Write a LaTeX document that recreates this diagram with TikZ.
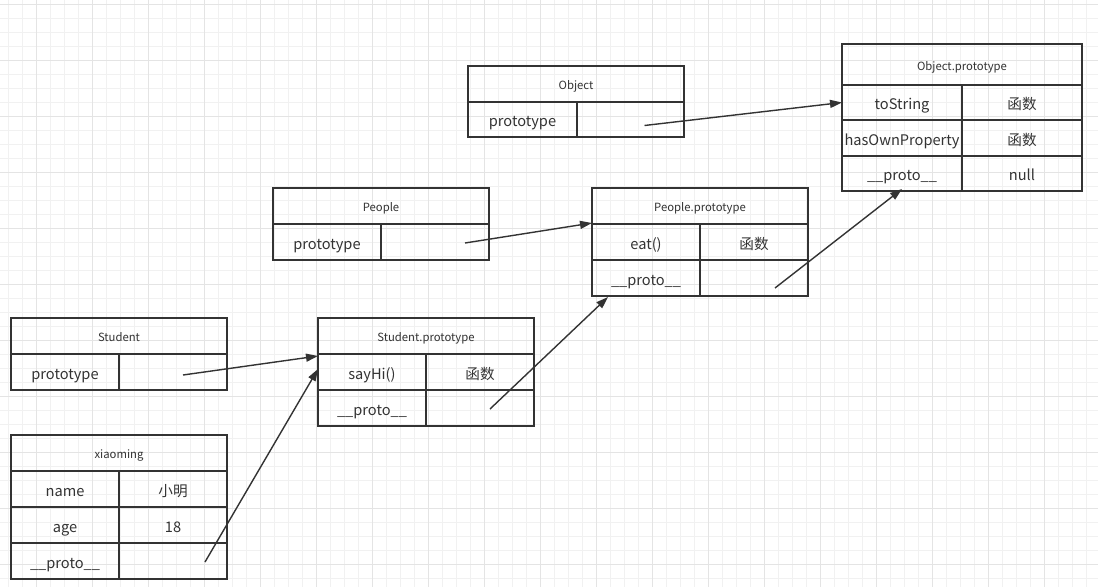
\documentclass[tikz,border=0pt]{standalone}
\usepackage{fontspec}
\setmainfont{Noto Sans CJK SC}
\usetikzlibrary{arrows.meta}
\definecolor{ink}{HTML}{333333}
\definecolor{minorgrid}{HTML}{F1F1F1}
\definecolor{majorgrid}{HTML}{E4E4E4}
\tikzset{
  cellbase/.style={draw=ink, line width=1.5pt, anchor=north west, inner sep=0pt, outer sep=0pt, text=ink, text depth=0pt},
  head/.style={cellbase, minimum height=36pt, text height=11.4pt, font=\fontsize{11.3}{13}\selectfont},
  kcell/.style={cellbase, minimum height=36pt, text height=14pt, font=\fontsize{14.6}{17}\selectfont},
  link/.style={draw=ink, line width=1.4pt, -{Triangle[length=12pt,width=8pt]}},
  minorline/.style={draw=minorgrid, line width=0.9pt},
  majorline/.style={draw=majorgrid, line width=0.9pt}
}
\begin{document}
\begin{tikzpicture}[x=1pt,y=-1pt]
\useasboundingbox (0,0) rectangle (1098,587);
\fill[white] (0,0) rectangle (1098,587);
% grid
\foreach \x in {8,22,...,1098} \draw[minorline] (\x,0) -- (\x,587);
\foreach \y in {4,18,...,587} \draw[minorline] (0,\y) -- (1098,\y);
\foreach \x in {36,92,...,1098} \draw[majorline] (\x,0) -- (\x,587);
\foreach \y in {4,60,...,587} \draw[majorline] (0,\y) -- (1098,\y);

% Object
\node[head, minimum width=216pt] (objH) at (468,66) {Object};
\node[kcell, minimum width=109pt, minimum height=35pt] (objK) at (468,102) {prototype};
\node[kcell, minimum width=107pt, minimum height=35pt] (objV) at (577,102) {};

% Object.prototype
\node[head, minimum width=240pt, minimum height=41pt] (opH) at (842,44) {Object.prototype};
\node[kcell, minimum width=120pt, minimum height=35pt] (opK1) at (842,85) {toString};
\node[kcell, minimum width=120pt, minimum height=35pt] (opV1) at (962,85) {函数};
\node[kcell, minimum width=120pt, minimum height=36pt] (opK2) at (842,120) {hasOwnProperty};
\node[kcell, minimum width=120pt, minimum height=36pt] (opV2) at (962,120) {函数};
\node[kcell, minimum width=120pt, minimum height=35pt] (opK3) at (842,156) {\_\_proto\_\_};
\node[kcell, minimum width=120pt, minimum height=35pt] (opV3) at (962,156) {null};

% People
\node[head, minimum width=216pt] (pH) at (273,188) {People};
\node[kcell, minimum width=108pt] (pK) at (273,224) {prototype};
\node[kcell, minimum width=108pt] (pV) at (381,224) {};

% People.prototype
\node[head, minimum width=216pt] (ppH) at (592,188) {People.prototype};
\node[kcell, minimum width=108pt] (ppK1) at (592,224) {eat()};
\node[kcell, minimum width=108pt] (ppV1) at (700,224) {函数};
\node[kcell, minimum width=108pt] (ppK2) at (592,260) {\_\_proto\_\_};
\node[kcell, minimum width=108pt] (ppV2) at (700,260) {};

% Student
\node[head, minimum width=216pt] (sH) at (11,318) {Student};
\node[kcell, minimum width=108pt] (sK) at (11,354) {prototype};
\node[kcell, minimum width=108pt] (sV) at (119,354) {};

% Student.prototype
\node[head, minimum width=216pt] (spH) at (318,318) {Student.prototype};
\node[kcell, minimum width=108pt] (spK1) at (318,354) {sayHi()};
\node[kcell, minimum width=108pt] (spV1) at (426,354) {函数};
\node[kcell, minimum width=108pt] (spK2) at (318,390) {\_\_proto\_\_};
\node[kcell, minimum width=108pt] (spV2) at (426,390) {};

% xiaoming
\node[head, minimum width=216pt] (xH) at (11,435) {xiaoming};
\node[kcell, minimum width=108pt] (xK1) at (11,471) {name};
\node[kcell, minimum width=108pt] (xV1) at (119,471) {小明};
\node[kcell, minimum width=108pt] (xK2) at (11,507) {age};
\node[kcell, minimum width=108pt] (xV2) at (119,507) {18};
\node[kcell, minimum width=108pt] (xK3) at (11,543) {\_\_proto\_\_};
\node[kcell, minimum width=108pt] (xV3) at (119,543) {};

% links
\draw[link] ([shift={(14,6)}]objV.center) -- (opK1.west);
\draw[link] ([shift={(30,1)}]pV.center) -- ([yshift=1]ppH.south west);
\draw[link] ([shift={(21,10)}]ppV2.center) -- ([yshift=2]opK3.south);
\draw[link] ([shift={(10,3)}]sV.center) -- ([yshift=-2]spH.south west);
\draw[link] ([shift={(10,1)}]spV2.center) -- ([shift={(16,1)}]ppK2.south west);
\draw[link] ([shift={(32,1)}]xV3.center) -- ([yshift=3]spK1.west);
\end{tikzpicture}
\end{document}
